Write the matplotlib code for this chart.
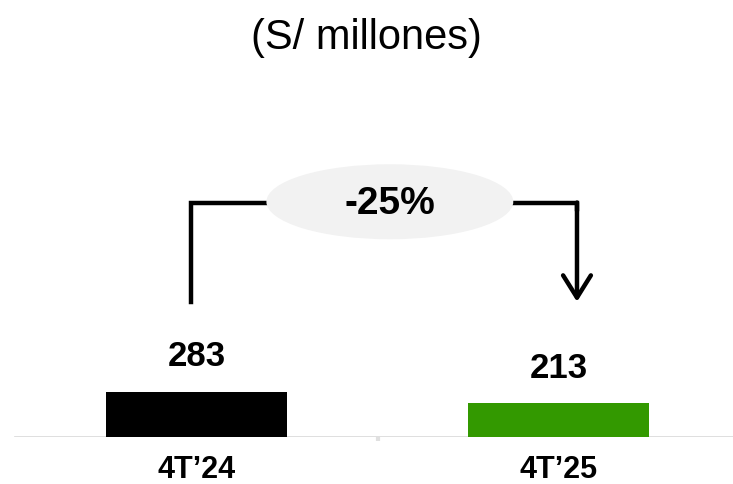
import matplotlib.pyplot as plt
from matplotlib.patches import Ellipse

plt.rcParams['font.family'] = ['Liberation Sans', 'DejaVu Sans']

periods = ["4T\u201924", "4T\u201925"]
values = [283, 213]
bar_colors = ['#000000', '#339900']
change_label = "-25%"
title = "(S/ millones)"

fig = plt.figure(figsize=(7.33, 4.85), dpi=100)
# axes bottom sits on the baseline, spans full width
ax = fig.add_axes([0, 47 / 485, 1, 438 / 485])

x = list(range(len(periods)))
ax.bar(x, values, width=0.5, color=bar_colors, zorder=3)

ax.set_xlim(-0.544, 1.481)
ax.set_ylim(0, 2750)

for s in ax.spines.values():
    s.set_visible(False)
ax.axhline(0, xmin=15 / 733, xmax=1, color='#d9d9d9', lw=1.2, zorder=2)
ax.set_yticks([])
ax.set_xticks(x)
ax.set_xticklabels(periods, fontsize=22, fontweight='bold')
ax.tick_params(axis='x', length=0, pad=12)
ax.set_xticks([0.5], minor=True)
ax.tick_params(axis='x', which='minor', length=3, width=3, color='#e0e0e0')

for xi, v in zip(x, values):
    ax.annotate(str(v), (xi, v), xytext=(0, 14), textcoords='offset points',
                ha='center', va='bottom', fontsize=25, fontweight='bold')

# bracket with change
y_low, y_top = 849, 1472
x_left, x_right = x[0] - 0.017, x[1] + 0.05
ax.plot([x_left, x_left, x_right, x_right], [y_low, y_top, y_top, y_top - 40],
        color='black', lw=3.2, solid_joinstyle='miter', zorder=4)
ax.annotate('', xy=(x_right, y_low), xytext=(x_right, y_top),
            arrowprops=dict(arrowstyle='->,head_length=0.8,head_width=0.5',
                            mutation_scale=20, lw=3.2, color='black',
                            shrinkA=0, shrinkB=0), zorder=4)
ell = Ellipse((0.533, 1477), width=0.682, height=471, facecolor='#f2f2f2',
              edgecolor='none', zorder=5)
ax.add_patch(ell)
ax.text(0.533, 1470, change_label, ha='center', va='center', fontsize=28,
        fontweight='bold', zorder=6)

fig.text(0.5, 1 - 38 / 485, title, ha='center', va='center', fontsize=30)

fig.savefig('out.png', dpi=100)
